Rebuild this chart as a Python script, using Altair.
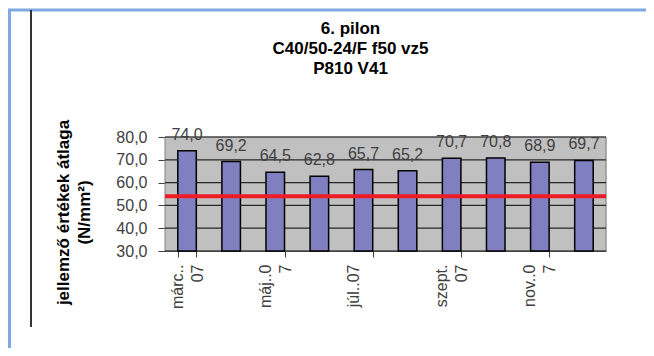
import altair as alt
import pandas as pd

months = ["márc..07", "ápr..07", "máj..07", "jún..07", "júl..07",
          "aug..07", "szept..07", "okt..07", "nov..07", "dec..07"]
values = [74.0, 69.2, 64.5, 62.8, 65.7, 65.2, 70.7, 70.8, 68.9, 69.7]
limit = 54.0
tick_months = ["márc..07", "máj..07", "júl..07", "szept..07", "nov..07"]
tick_labels = [["márc..", "07"], ["máj..0", "7"], ["júl..07"], ["szept.", "07"], ["nov..0", "7"]]
y_ticks = [30, 40, 50, 60, 70, 80]

title_lines = ["6. pilon", "C40/50-24/F f50 vz5", "P810 V41"]
y_title = ["jellemző értékek átlaga", "(N/mm²)"]

FONT = "Liberation Sans"
W, H = 441, 114

df = pd.DataFrame({"month": months, "value": values})
grid_df = pd.DataFrame({"g": y_ticks})

# label expression built from the tick label lists
expr = "''"
for m, lab in reversed(list(zip(tick_months, tick_labels))):
    arr = "[" + ",".join("'" + s + "'" for s in lab) + "]"
    expr = f"datum.value == '{m}' ? {arr} : ({expr})"

x_axis = alt.Axis(values=tick_months, tickBand="extent", labelAngle=-90,
                  labelAlign="right", labelBaseline="middle",
                  labelExpr=expr, labelFont=FONT, labelFontSize=16,
                  labelColor="#404040", labelLineHeight=20, labelOffset=-10,
                  labelPadding=7, tickSize=6, tickColor="#404040",
                  domainColor="#404040", grid=False, labelOverlap=False,
                  title=None)
y_axis = alt.Axis(values=y_ticks, labelOverlap=False, tickCount=6, grid=False,
                  labelExpr="replace(format(datum.value, '.1f'), '.', ',')",
                  labelFont=FONT, labelFontSize=16, labelColor="#404040",
                  tickSize=7, labelPadding=11, tickColor="#404040",
                  domainColor="#404040",
                  title=y_title, titleFont=FONT,
                  titleFontSize=17, titleFontWeight="bold",
                  titleColor="#000000", titlePadding=22,
                  titleLineHeight=21, titleY=75)

x_scale = alt.Scale(paddingInner=0.58, paddingOuter=0.29)
y_scale = alt.Scale(domain=[30, 80], nice=False, zero=False)

frame = pd.DataFrame({"d": [0]})
plot_bg = alt.Chart(frame).mark_rect(
    color="#C0C0C0", stroke="#808080", strokeWidth=1
).encode(x=alt.value(0), x2=alt.value(W), y=alt.value(0), y2=alt.value(H))

grid = alt.Chart(grid_df).mark_rule(color="#262626", strokeWidth=1.2).encode(
    x=alt.value(0), x2=alt.value(W),
    y=alt.Y("g:Q", scale=y_scale, axis=y_axis))

bars = alt.Chart(df).mark_bar(
    color="#8080C0", stroke="#000000", strokeWidth=1.5
).encode(
    x=alt.X("month:N", sort=months, scale=x_scale, axis=x_axis),
    y=alt.Y("value:Q", scale=y_scale, axis=y_axis),
    y2=alt.datum(30),
)

labels = alt.Chart(df).transform_calculate(
    lab="replace(format(datum.value, '.1f'), '.', ',')"
).mark_text(
    baseline="bottom", dy=-8, font=FONT, fontSize=16, color="#404040"
).encode(
    x=alt.X("month:N", sort=months, scale=x_scale, axis=x_axis),
    y=alt.Y("value:Q", scale=y_scale, axis=y_axis),
    text="lab:N",
)

rule = alt.Chart(pd.DataFrame({"limit": [limit]})).mark_rule(
    color="#EE1C25", strokeWidth=4
).encode(y=alt.Y("limit:Q", scale=y_scale, axis=y_axis))

blue_top = alt.Chart(frame).mark_rule(color="#7FA7E0", strokeWidth=3).encode(
    x=alt.value(-165), x2=alt.value(489), y=alt.value(-127), y2=alt.value(-127))
blue_left = alt.Chart(frame).mark_rule(color="#7FA7E0", strokeWidth=3).encode(
    x=alt.value(-155.5), x2=alt.value(-155.5), y=alt.value(-128), y2=alt.value(211))
black_left = alt.Chart(frame).mark_rule(color="#333333", strokeWidth=2).encode(
    x=alt.value(-134), x2=alt.value(-134), y=alt.value(-127), y2=alt.value(190))

chart = alt.layer(plot_bg, grid, bars, labels, rule,
                  blue_top, blue_left, black_left).properties(
    width=W, height=H,
    title=alt.TitleParams(text=title_lines, font=FONT, fontSize=17,
                          fontWeight="bold", color="#000000", anchor="middle",
                          frame="group", dx=-35, offset=-70, lineHeight=20),
    autosize=alt.AutoSizeParams(type="none"),
    padding={"left": 157, "top": 129, "right": 40, "bottom": 97},
).configure_view(
    strokeWidth=0
).configure(background="#FFFFFF")

chart.save("out.html", embed_options={"renderer": "svg", "actions": False})
